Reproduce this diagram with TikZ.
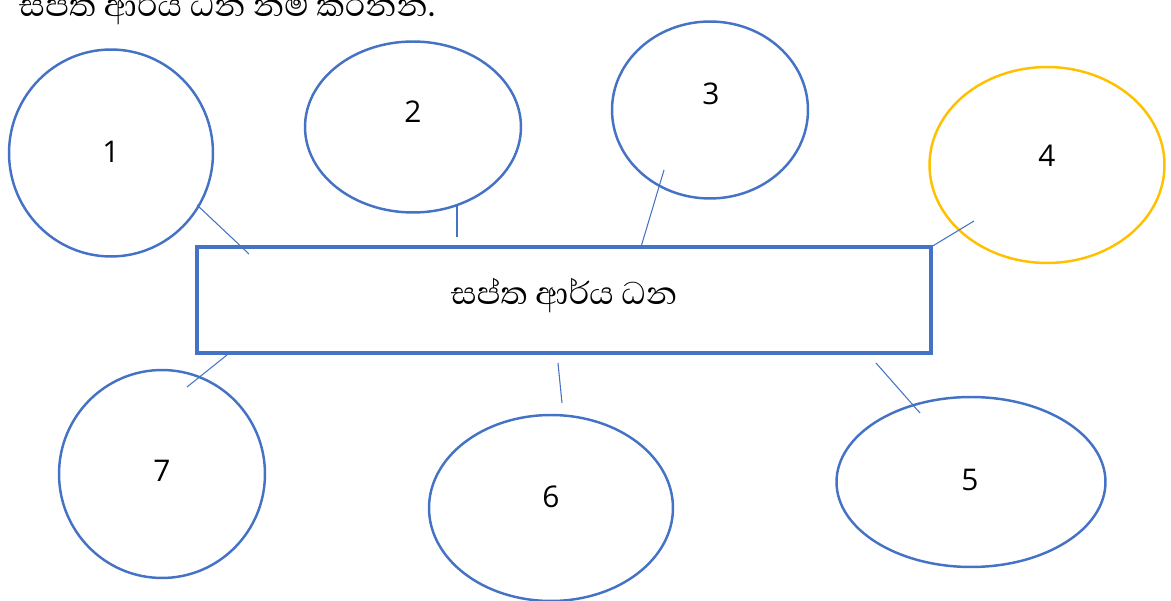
\documentclass[tikz,border=0pt]{standalone}
\usepackage{fontspec}
\setmainfont{Open Sans}
\newfontfamily\sinhala[Script=Sinhala]{Abhaya Libre}
\usetikzlibrary{shapes}
\definecolor{ringblue}{RGB}{68,114,196}
\definecolor{ringgold}{RGB}{255,192,0}

\begin{document}
\begin{tikzpicture}[x=0.02cm, y=-0.02cm]

\tikzstyle{ring}=[ellipse, draw=ringblue, line width=1.4pt, inner sep=0pt]
\tikzstyle{num}=[font=\fontsize{17}{20}\selectfont]
\tikzstyle{connect}=[draw=ringblue, line width=0.6pt]

\useasboundingbox (0,0) rectangle (1171,601);

\node[anchor=base west, font=\sinhala\fontsize{23}{26}\selectfont] (title) at (13,17) {සප්ත ආර්ය ධන නම් කරන්න.};

\node[draw=ringblue, line width=1.8pt, minimum width=14.68cm, minimum height=2.12cm] (box) at (564,300) {};
\node[font=\sinhala\fontsize{23}{26}\selectfont] (boxtext) at (564,296) {සප්ත ආර්ය ධන};

\node[ring, minimum width=4.08cm, minimum height=4.14cm] (e1) at (111,153) {};
\node[ring, minimum width=4.32cm, minimum height=3.42cm] (e2) at (413,127) {};
\node[ring, minimum width=3.92cm, minimum height=3.54cm] (e3) at (710,110) {};
\node[ring, draw=ringgold, minimum width=4.70cm, minimum height=3.92cm] (e4) at (1047,165) {};
\node[ring, minimum width=5.38cm, minimum height=3.40cm] (e5) at (971,482) {};
\node[ring, minimum width=4.88cm, minimum height=3.72cm] (e6) at (551,508) {};
\node[ring, minimum width=4.12cm, minimum height=4.16cm] (e7) at (162,474) {};

\node[num] (n1) at (111,152) {1};
\node[num] (n2) at (413,112) {2};
\node[num] (n3) at (711,94) {3};
\node[num] (n4) at (1047,156) {4};
\node[num] (n5) at (970,480) {5};
\node[num] (n6) at (551,497) {6};
\node[num] (n7) at (162,471) {7};

\coordinate (a1) at (197,205);
\coordinate (b1) at (249,254);
\coordinate (a2) at (457,205);
\coordinate (b2) at (457,237);
\coordinate (a3) at (664,170);
\coordinate (b3) at (641,247);
\coordinate (a4) at (974,221);
\coordinate (b4) at (931,247);
\coordinate (a5) at (920,413);
\coordinate (b5) at (876,363);
\coordinate (a6) at (562,403);
\coordinate (b6) at (558,363);
\coordinate (a7) at (187,387);
\coordinate (b7) at (227,355);

\path (a1) [connect] edge (b1);
\path (a2) [connect] edge (b2);
\path (a3) [connect] edge (b3);
\path (a4) [connect] edge (b4);
\path (a5) [connect] edge (b5);
\path (a6) [connect] edge (b6);
\path (a7) [connect] edge (b7);

\end{tikzpicture}
\end{document}
